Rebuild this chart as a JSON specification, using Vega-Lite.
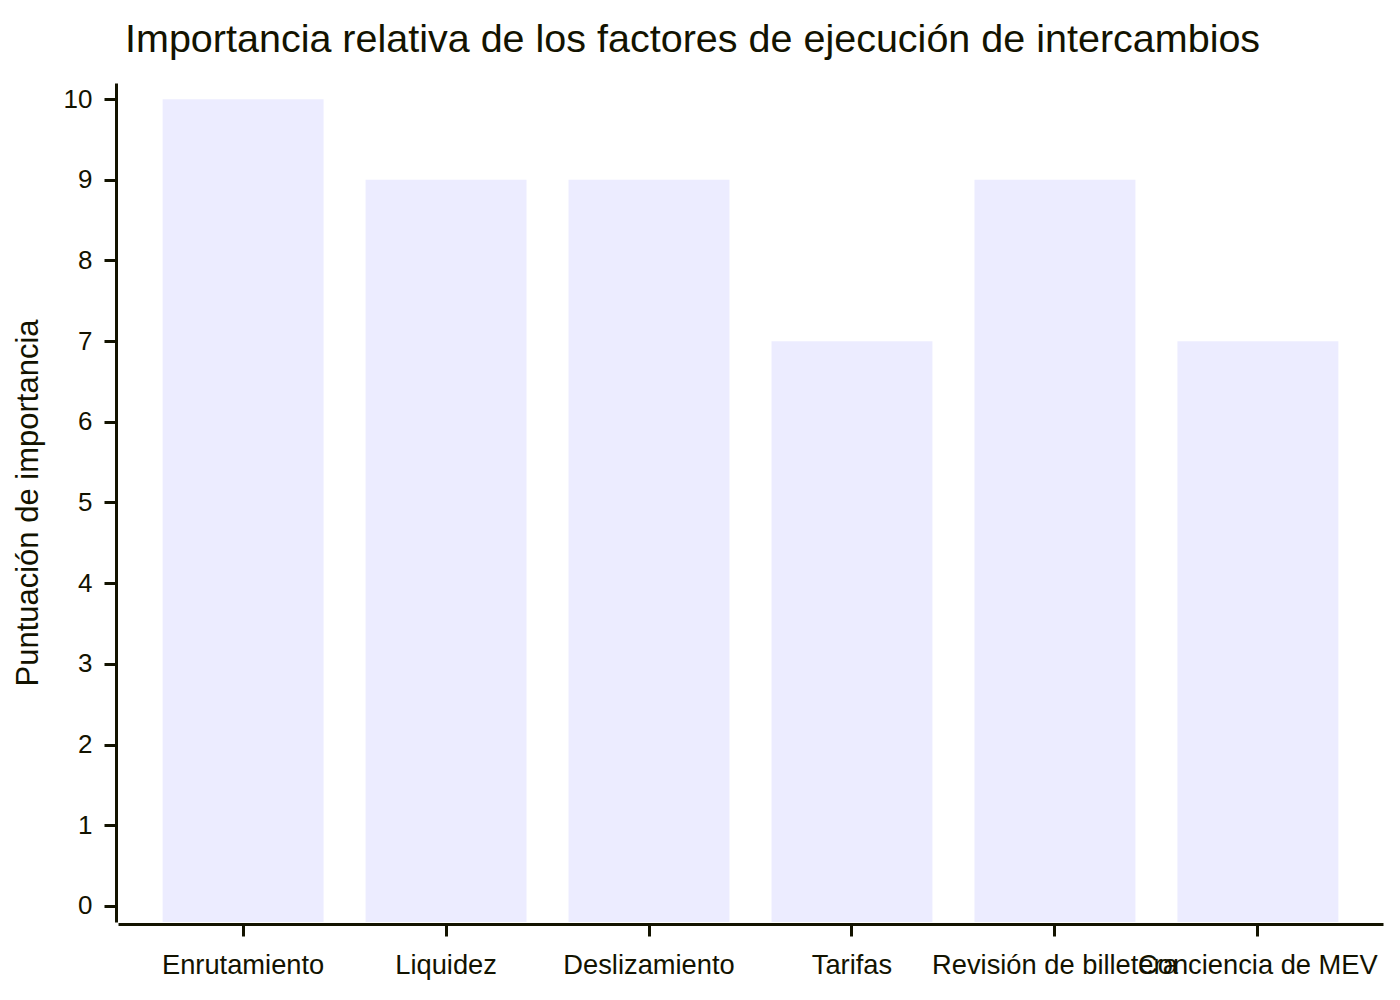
{
  "$schema": "https://vega.github.io/schema/vega-lite/v6.json",
  "autosize": {"type": "none"},
  "padding": {"left": 118, "top": 83, "right": 17, "bottom": 78},
  "width": 1265,
  "height": 839,
  "background": "white",
  "title": {
    "text": "Importancia relativa de los factores de ejecución de intercambios",
    "anchor": "start",
    "frame": "group",
    "dx": 7,
    "offset": -8,
    "baseline": "alphabetic",
    "font": "Liberation Sans",
    "fontSize": 39.5,
    "fontWeight": "normal",
    "color": "#131300"
  },
  "data": {
    "values": [
      {"factor": "Enrutamiento", "score": 10},
      {"factor": "Liquidez", "score": 9},
      {"factor": "Deslizamiento", "score": 9},
      {"factor": "Tarifas", "score": 7},
      {"factor": "Revisión de billetera", "score": 9},
      {"factor": "Conciencia de MEV", "score": 7}
    ]
  },
  "mark": {"type": "bar", "color": "#ECECFF"},
  "encoding": {
    "x": {
      "field": "factor",
      "type": "nominal",
      "sort": null,
      "title": null,
      "scale": {"paddingInner": 0.207, "paddingOuter": 0.22},
      "axis": {
        "offset": 2,
        "labelAngle": 0,
        "labelOverlap": false,
        "labelBound": false,
        "labelLimit": 500,
        "labelPadding": 15,
        "labelFontSize": 27.3,
        "tickSize": 12,
        "tickWidth": 3,
        "domainWidth": 3
      }
    },
    "y": {
      "field": "score",
      "type": "quantitative",
      "title": "Puntuación de importancia",
      "scale": {"domain": [-0.2, 10.2], "nice": false, "zero": false},
      "axis": {
        "offset": 2,
        "values": [0, 1, 2, 3, 4, 5, 6, 7, 8, 9, 10],
        "grid": false,
        "labelPadding": 12,
        "labelFontSize": 26,
        "tickSize": 12,
        "tickWidth": 3,
        "domainWidth": 3,
        "titleFontSize": 31,
        "titlePadding": 19
      }
    },
    "y2": {"datum": -0.2}
  },
  "config": {
    "view": {"stroke": null},
    "axis": {
      "labelFont": "Liberation Sans",
      "titleFont": "Liberation Sans",
      "labelColor": "#131300",
      "titleColor": "#131300",
      "titleFontWeight": "normal",
      "domainColor": "#131300",
      "tickColor": "#131300"
    }
  }
}
